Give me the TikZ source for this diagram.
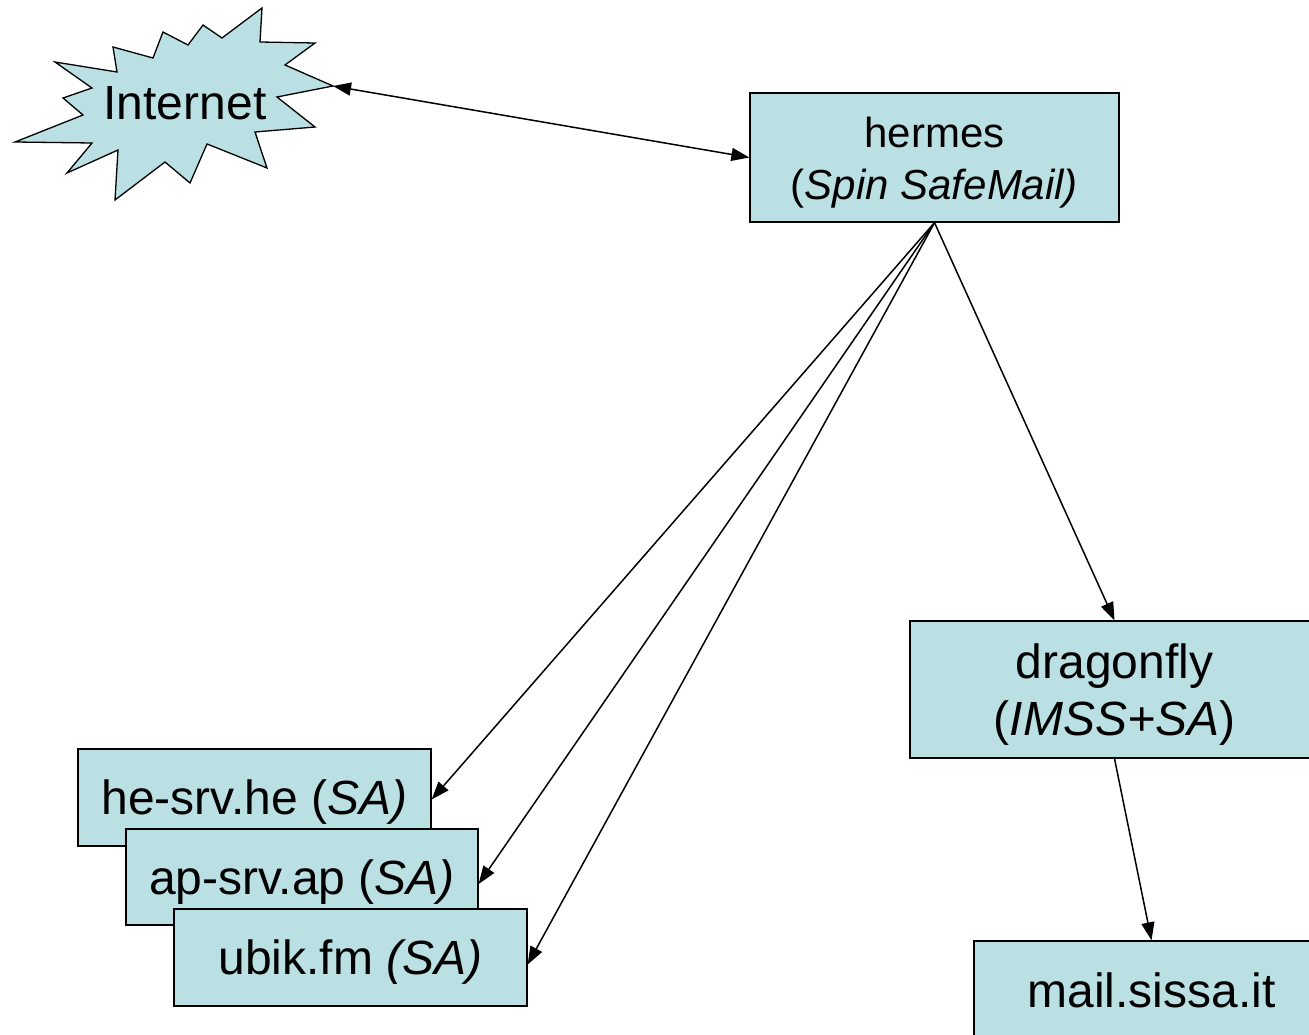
\documentclass[tikz,border=0pt]{standalone}
\usepackage{fontspec}
\setmainfont{Liberation Sans}
\usetikzlibrary{arrows.meta}
\definecolor{boxfill}{RGB}{186,224,227}
\newcommand{\dn}[1]{\raisebox{-5pt}[\height][\depth]{#1}}
\tikzset{
  srvbox/.style={draw=black, line width=1.3pt, fill=boxfill, inner sep=0pt, align=center,
    font=\fontsize{48}{57}\selectfont},
  conn/.style={line width=1.5pt, -{Triangle[length=18pt,width=13pt]}},
  biconn/.style={line width=1.5pt, {Triangle[length=18pt,width=13pt]}-{Triangle[length=18pt,width=13pt]}}
}
\begin{document}
\begin{tikzpicture}[x=1pt,y=-1pt]
\useasboundingbox (0,0) rectangle (1309,1035);
\clip (0,0) rectangle (1309,1035);
% starburst
\draw[line width=1.3pt, fill=boxfill, line join=miter]
  (333,86) -- (277,97) -- (315,127) -- (255,132) -- (267,168) -- (207,144) -- (190,183)
  -- (165,162) -- (115,200) -- (118,150) -- (67,173) -- (92,143) -- (15,142) -- (83,115)
  -- (63,98) -- (92,88) -- (55,62) -- (117,72) -- (113,47) -- (153,58) -- (163,32)
  -- (188,45) -- (203,25) -- (222,38) -- (262,8) -- (260,42) -- (315,43) -- (285,65) -- cycle;
\coordinate (tip) at (333,86);
\node[font=\fontsize{48}{57}\selectfont, inner sep=0pt] (internet) at (185,103) {Internet};
% hermes
\node[srvbox, minimum width=369, minimum height=129, font=\fontsize{42}{52}\selectfont]
  (hermes) at (934.5,157.5) {\dn{hermes}\\\dn{(\textit{Spin SafeMail)}}};
% servers
\node[srvbox, minimum width=353, minimum height=97] (he) at (254.5,797.5) {\dn{he-srv.he (\textit{SA)}}};
\node[srvbox, minimum width=352, minimum height=96] (ap) at (302,877) {\dn{ap-srv.ap (\textit{SA)}}};
\node[srvbox, minimum width=353, minimum height=97] (ubik) at (350.5,957.5) {\dn{ubik.fm \textit{(SA)}}};
% dragonfly and mail
\node[srvbox, minimum width=409, minimum height=137] (dragon) at (1114.5,689.5) {\dn{dragonfly}\\\dn{(\textit{IMSS+SA})}};
\node[srvbox, minimum width=355, minimum height=98] (mail) at (1151.5,990) {mail.sissa.it};
% connectors
\draw[biconn] (tip) -- (hermes.west);
\draw[conn] (hermes.south) -- ([yshift=-2]he.east);
\draw[conn] (hermes.south) -- ([yshift=-7]ap.east);
\draw[conn] (hermes.south) -- ([yshift=-7]ubik.east);
\draw[conn] (hermes.south) -- (dragon.north);
\draw[conn] (dragon.south) -- (mail.north);
\end{tikzpicture}
\end{document}
